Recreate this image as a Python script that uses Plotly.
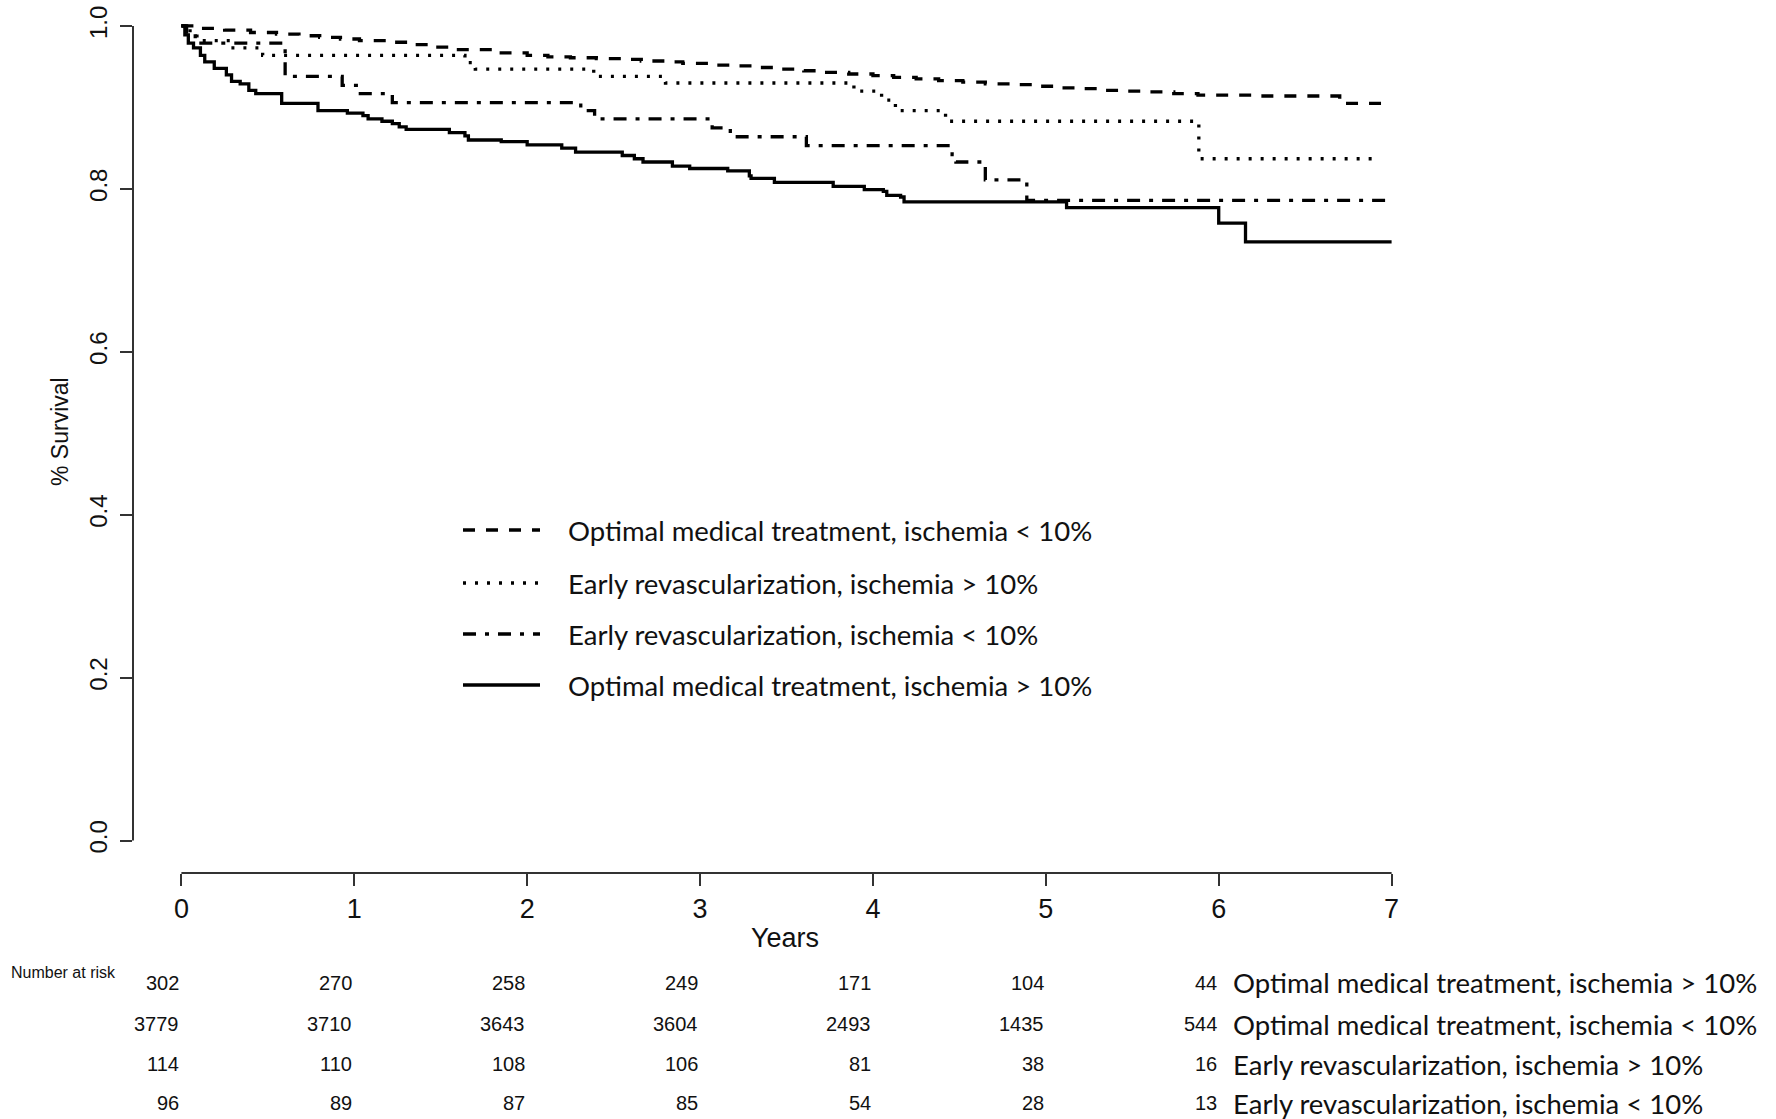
import plotly.graph_objects as go

# Kaplan-Meier step curves: time of each step (years) and survival after it
omt_hi_t = [0, 0.02, 0.04, 0.07, 0.11, 0.135, 0.19, 0.26, 0.29, 0.34, 0.39, 0.43, 0.58, 0.79, 0.96,
            1.05, 1.08, 1.16, 1.22, 1.26, 1.30, 1.55, 1.64, 1.66, 1.85, 2.0, 2.2, 2.28, 2.55, 2.62,
            2.67, 2.84, 2.94, 3.16, 3.285, 3.295, 3.43, 3.77, 3.95, 4.06, 4.08, 4.16, 4.18, 5.12,
            6.0, 6.155, 7.0]
omt_hi_s = [1.0, 0.989, 0.979, 0.973, 0.964, 0.956, 0.948, 0.940, 0.932, 0.929, 0.921, 0.917, 0.905,
            0.896, 0.893, 0.890, 0.886, 0.883, 0.880, 0.876, 0.873, 0.869, 0.865, 0.860, 0.858,
            0.854, 0.850, 0.845, 0.841, 0.837, 0.833, 0.828, 0.825, 0.822, 0.816, 0.813, 0.808,
            0.803, 0.799, 0.797, 0.792, 0.790, 0.784, 0.777, 0.758, 0.735, 0.735]

omt_lo_t = [0, 0.1, 0.25, 0.4, 0.55, 0.68, 0.8, 0.92, 1.03, 1.2, 1.32, 1.45, 1.58, 1.85, 2.0, 2.12,
            2.25, 2.4, 2.55, 2.66, 2.8, 2.9, 3.05, 3.2, 3.32, 3.46, 3.6, 3.72, 3.86, 4.0, 4.12, 4.25,
            4.38, 4.52, 4.65, 4.8, 4.92, 5.05, 5.2, 5.33, 5.46, 5.6, 5.74, 5.88, 6.2, 6.70, 7.0]
omt_lo_s = [1.0, 0.997, 0.995, 0.992, 0.990, 0.988, 0.986, 0.984, 0.982, 0.980, 0.977, 0.974, 0.971,
            0.967, 0.964, 0.962, 0.961, 0.960, 0.959, 0.957, 0.956, 0.954, 0.952, 0.951, 0.949,
            0.947, 0.945, 0.943, 0.941, 0.939, 0.937, 0.935, 0.933, 0.931, 0.929, 0.928, 0.926,
            0.924, 0.923, 0.921, 0.920, 0.919, 0.917, 0.915, 0.914, 0.905, 0.905]

er_hi_t = [0, 0.05, 0.09, 0.28, 0.47, 1.64, 1.70, 2.385, 2.80, 3.89, 4.05, 4.13, 4.42, 5.885, 6.93]
er_hi_s = [1.0, 0.991, 0.982, 0.973, 0.964, 0.955, 0.947, 0.938, 0.930, 0.920, 0.909, 0.896, 0.883,
           0.837, 0.837]

er_lo_t = [0, 0.03, 0.08, 0.60, 0.93, 1.035, 1.22, 2.31, 2.39, 3.07, 3.175, 3.615, 4.458, 4.48,
           4.65, 4.89, 7.0]
er_lo_s = [1.0, 0.990, 0.979, 0.938, 0.927, 0.917, 0.906, 0.896, 0.886, 0.875, 0.864, 0.853, 0.842,
           0.833, 0.811, 0.786, 0.786]

# Number-at-risk table
risk_years = [0, 1, 2, 3, 4, 5, 6]
risk_groups = ["Optimal medical treatment, ischemia > 10%",
               "Optimal medical treatment, ischemia < 10%",
               "Early revascularization, ischemia > 10%",
               "Early revascularization, ischemia < 10%"]
risk_counts = [[302, 270, 258, 249, 171, 104, 44],
               [3779, 3710, 3643, 3604, 2493, 1435, 544],
               [114, 110, 108, 106, 81, 38, 16],
               [96, 89, 87, 85, 54, 28, 13]]

x_ticks = [0, 1, 2, 3, 4, 5, 6, 7]
y_ticks = [0.0, 0.2, 0.4, 0.6, 0.8, 1.0]

DASHED = "12px,11px"
DOTTED = "3px,9px"
DASHDOT = "13px,9px,4px,9px"
INK = "#111111"
AXIS = "#333333"
NARROW = "Liberation Sans Narrow, Arial Narrow, Liberation Sans, Arial, sans-serif"
SANS = "Liberation Sans, Arial, sans-serif"
HUMAN = "Lato, Open Sans, sans-serif"

curves = [
    ("Optimal medical treatment, ischemia < 10%", omt_lo_t, omt_lo_s, DASHED),
    ("Early revascularization, ischemia > 10%", er_hi_t, er_hi_s, DOTTED),
    ("Early revascularization, ischemia < 10%", er_lo_t, er_lo_s, DASHDOT),
    ("Optimal medical treatment, ischemia > 10%", omt_hi_t, omt_hi_s, "solid"),
]

fig = go.Figure()
for name, t, s, dash in curves:
    fig.add_trace(go.Scatter(x=t, y=s, mode="lines", name=name,
                             line=dict(shape="hv", color="black", width=3.3, dash=dash),
                             showlegend=False, hoverinfo="skip"))

L, R, T, B = 133, 336, 10, 246
W, H = 1776, 1119
pw, ph = W - L - R, H - T - B


def px_x(px):
    return (px - L) / pw


def px_y(py):
    return (H - B - py) / ph


shapes = [
    # detached R-style axis lines
    dict(type="line", xref="paper", yref="y", x0=0, x1=0, y0=0, y1=1,
         line=dict(color=AXIS, width=2)),
    dict(type="line", xref="x", yref="paper", x0=0, x1=7, y0=0, y1=0,
         line=dict(color=AXIS, width=2)),
]
annotations = []

# in-plot legend
legend_rows = [530, 583, 634, 685]
for (name, _, _, dash), row in zip(curves, legend_rows):
    shapes.append(dict(type="line", xref="paper", yref="paper",
                       x0=px_x(463), x1=px_x(540), y0=px_y(row), y1=px_y(row),
                       line=dict(color="black", width=3.3, dash=dash)))
    annotations.append(dict(text=name, xref="paper", yref="paper", x=px_x(566), y=px_y(row),
                            xanchor="left", yanchor="middle", showarrow=False,
                            font=dict(family=HUMAN, size=27.5, color=INK)))

# number at risk table
table_rows = [983, 1024, 1064, 1103]
annotations.append(dict(text="Number at risk", xref="paper", yref="paper",
                        x=px_x(9), y=px_y(972), xanchor="left", yanchor="middle",
                        showarrow=False, font=dict(family=SANS, size=16, color=INK)))
for counts, label, row in zip(risk_counts, risk_groups, table_rows):
    for yr, n in zip(risk_years, counts):
        annotations.append(dict(text=str(n), xref="x", yref="paper", x=yr, y=px_y(row),
                                xanchor="right", yanchor="middle", showarrow=False,
                                font=dict(family=SANS, size=20, color=INK)))
    annotations.append(dict(text=label, xref="x", yref="paper", x=risk_years[-1], xshift=12,
                            y=px_y(row), xanchor="left", yanchor="middle", showarrow=False,
                            font=dict(family=HUMAN, size=27.5, color=INK)))

# axis titles
annotations.append(dict(text="Years", xref="paper", yref="paper", x=px_x(785), y=px_y(938),
                        xanchor="center", yanchor="middle", showarrow=False,
                        font=dict(family=NARROW, size=27, color=INK)))
annotations.append(dict(text="% Survival", xref="paper", yref="paper", x=px_x(60), y=px_y(432),
                        xanchor="center", yanchor="middle", textangle=-90, showarrow=False,
                        font=dict(family=SANS, size=23, color=INK)))

fig.update_layout(
    width=W, height=H,
    margin=dict(l=L, r=R, t=T, b=B, autoexpand=False),
    paper_bgcolor="white", plot_bgcolor="white",
    shapes=shapes, annotations=annotations,
    xaxis=dict(range=[-0.28, 7.28], tickvals=x_ticks, ticktext=[str(v) for v in x_ticks],
               ticks="outside", ticklen=12, tickwidth=2, tickcolor=AXIS,
               showgrid=False, zeroline=False, showline=False, ticklabelstandoff=0,
               tickfont=dict(family=NARROW, size=27, color=INK)),
    yaxis=dict(range=[-0.0399, 1.0196], tickvals=y_ticks, ticktext=[f"{v:.1f}" for v in y_ticks],
               ticks="outside", ticklen=12, tickwidth=2, tickcolor=AXIS, tickangle=-90,
               showgrid=False, zeroline=False, showline=False, ticklabelstandoff=3,
               tickfont=dict(family=NARROW, size=24, color=INK)),
)

fig.write_html("out.html")
